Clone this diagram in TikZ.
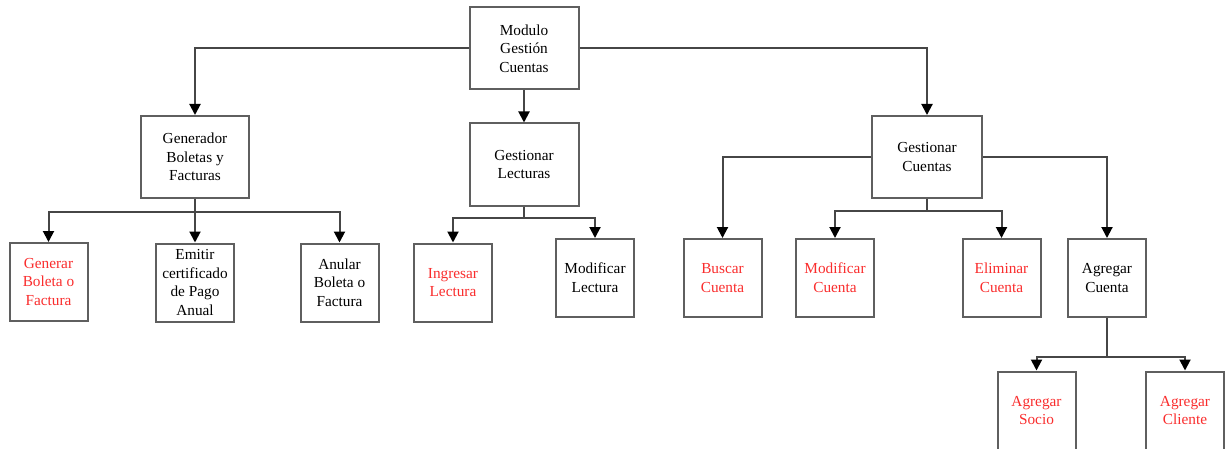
\documentclass[tikz,border=0pt]{standalone}
\usepackage{fontspec}
\setmainfont{Liberation Serif}
\usetikzlibrary{arrows.meta}
\definecolor{boxline}{RGB}{95,95,95}
\definecolor{wire}{RGB}{70,70,70}
\definecolor{hotred}{RGB}{250,45,45}
\begin{document}
\begin{tikzpicture}[x=1pt,y=-1pt,
  box/.style={draw=boxline,line width=2pt,fill=white,align=center,inner sep=0pt,
    font=\fontsize{15.3}{18.7}\selectfont},
  bigbox/.style={box,minimum width=109pt,minimum height=82pt},
  leaf/.style={box,minimum width=78pt,minimum height=78pt},
  redtxt/.style={text=hotred},
  link/.style={draw=wire,line width=2pt},
  arr/.style={link,-{Triangle[length=11pt,width=11pt,color=black]}}
]
\useasboundingbox (0,0) rectangle (1225,449);
\clip (0,0) rectangle (1225,449);

% main levels
\node[bigbox] (top) at (524,48.5) {Modulo\\Gestión\\Cuentas};
\node[bigbox,minimum width=108pt] (gen) at (195,157) {Generador\\Boletas y\\Facturas};
\node[bigbox] (lec) at (524,164.5) {Gestionar\\Lecturas};
\node[bigbox,minimum width=110pt] (gc) at (927,157) {Gestionar\\Cuentas};

% leaves under Generador
\node[leaf,redtxt] (generar) at (48.5,282) {Generar\\Boleta o\\Factura};
\node[leaf] (emitir) at (195,282.5) {Emitir\\certificado\\de Pago\\Anual};
\node[leaf] (anular) at (339.5,282.5) {Anular\\Boleta o\\Factura};

% leaves under Lecturas
\node[leaf,redtxt] (ingresar) at (453,282.5) {Ingresar\\Lectura};
\node[leaf] (modlec) at (595,278) {Modificar\\Lectura};

% leaves under Cuentas
\node[leaf,redtxt] (buscar) at (722.5,278) {Buscar\\Cuenta};
\node[leaf,redtxt] (modcta) at (835,278) {Modificar\\Cuenta};
\node[leaf,redtxt] (elim) at (1001.5,278) {Eliminar\\Cuenta};
\node[leaf] (agc) at (1107,278) {Agregar\\Cuenta};

% leaves under Agregar Cuenta
\node[leaf,redtxt] (socio) at (1036.5,410.5) {Agregar\\Socio};
\node[leaf,redtxt] (cliente) at (1185,410.5) {Agregar\\Cliente};

% bus points
\coordinate (genbus) at (195,212);
\coordinate (lecbus) at (524,218);
\coordinate (gcbus) at (927,211);
\coordinate (agcbus) at (1107,357);

% connectors from the root
\draw[arr] (top.west) -| (gen.north);
\draw[arr] (top.east) -| (gc.north);
\draw[arr] (top.south) -- (lec.north);

% Generador branch
\draw[link] (gen.south) -- (genbus);
\draw[arr] (genbus) -| (generar.north);
\draw[arr] (genbus) -- (emitir.north);
\draw[arr] (genbus) -| (anular.north);

% Lecturas branch
\draw[link] (lec.south) -- (lecbus);
\draw[arr] (lecbus) -| (ingresar.north);
\draw[arr] (lecbus) -| (modlec.north);

% Cuentas branch
\draw[arr] (gc.west) -| (buscar.north);
\draw[arr] (gc.east) -| (agc.north);
\draw[link] (gc.south) -- (gcbus);
\draw[arr] (gcbus) -| (modcta.north);
\draw[arr] (gcbus) -| (elim.north);

% Agregar Cuenta branch
\draw[link] (agc.south) -- (agcbus);
\draw[arr] (agcbus) -| (socio.north);
\draw[arr] (agcbus) -| (cliente.north);
\end{tikzpicture}
\end{document}
